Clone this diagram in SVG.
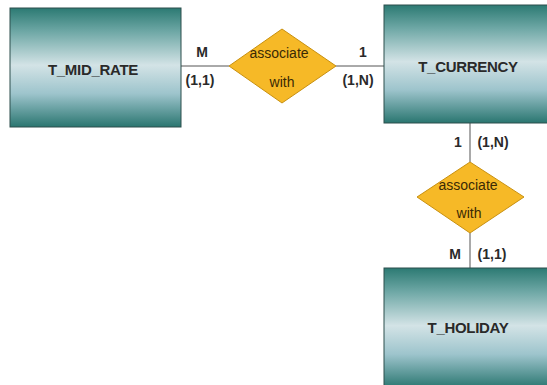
<svg xmlns="http://www.w3.org/2000/svg" width="547" height="385" viewBox="0 0 547 385">
<defs>
<linearGradient id="teal" x1="0" y1="0" x2="0" y2="1">
<stop offset="0" stop-color="#2c7a73"/>
<stop offset="0.2" stop-color="#6fa8a6"/>
<stop offset="0.48" stop-color="#d3e3e6"/>
<stop offset="0.72" stop-color="#9dc4cc"/>
<stop offset="1" stop-color="#2a7670"/>
</linearGradient>
</defs>
<style>
.ent{fill:url(#teal);stroke:#2d4f4c;stroke-width:1}
.rel{fill:#f6b927;stroke:#c8900f;stroke-width:1}
.et{font-family:"Liberation Sans",Arial,sans-serif;font-size:15px;font-weight:bold;fill:#2a2a2a;text-anchor:middle;letter-spacing:-0.3px}
.rt{font-family:"Liberation Sans",Arial,sans-serif;font-size:14px;fill:#3a2a05;text-anchor:middle}
.lb{font-family:"Liberation Sans",Arial,sans-serif;font-size:14px;font-weight:bold;fill:#2a2a2a;text-anchor:middle}
.ln{stroke:#555;stroke-width:1;fill:none}
</style>
<g id="connectors">
<line class="ln" x1="181" y1="66" x2="229" y2="66"/>
<line class="ln" x1="336" y1="66" x2="384" y2="66"/>
<line class="ln" x1="470" y1="123" x2="470" y2="162"/>
<line class="ln" x1="470" y1="233" x2="470" y2="268"/>
<text class="lb" x="202" y="57">M</text>
<text class="lb" x="200" y="85">(1,1)</text>
<text class="lb" x="363" y="57">1</text>
<text class="lb" x="358" y="85">(1,N)</text>
<text class="lb" x="458" y="147">1</text>
<text class="lb" x="493" y="147">(1,N)</text>
<text class="lb" x="455" y="259">M</text>
<text class="lb" x="492" y="259">(1,1)</text>
</g>
<g id="T_MID_RATE">
<rect class="ent" x="10" y="8" width="171" height="119"/>
<text class="et" x="93" y="75">T_MID_RATE</text>
</g>
<g id="T_CURRENCY">
<rect class="ent" x="384" y="5" width="170" height="118"/>
<text class="et" x="468" y="72">T_CURRENCY</text>
</g>
<g id="T_HOLIDAY">
<rect class="ent" x="384" y="268" width="170" height="120"/>
<text class="et" x="468" y="333">T_HOLIDAY</text>
</g>
<g id="rel1">
<polygon class="rel" points="229,66 282,29 336,66 282,103"/>
<text class="rt" x="279" y="58">associate</text>
<text class="rt" x="282" y="87">with</text>
</g>
<g id="rel2">
<polygon class="rel" points="417,197 470,162 524,197 470,233"/>
<text class="rt" x="468" y="190">associate</text>
<text class="rt" x="469" y="218">with</text>
</g>
</svg>
